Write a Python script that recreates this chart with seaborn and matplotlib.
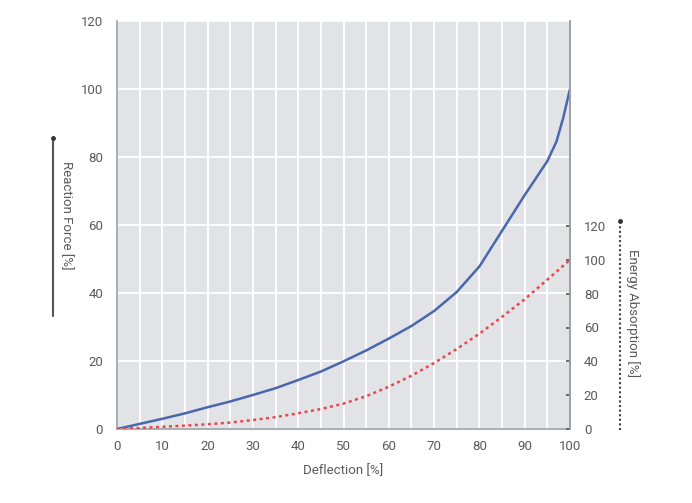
import numpy as np
import pandas as pd
import seaborn as sns
import matplotlib.pyplot as plt
from matplotlib.lines import Line2D

# values
deflection = [0, 5, 10, 15, 20, 25, 30, 35, 40, 45, 50, 55, 60, 65, 70, 75, 80, 85, 90, 95, 97, 98.5, 100]
reaction_force = [0, 1.5, 3.0, 4.6, 6.4, 8.1, 10, 12, 14.4, 16.9, 19.9, 23.1, 26.6, 30.3,
                  34.7, 40.3, 47.8, 58.3, 68.8, 78.8, 84.5, 91.5, 100]
deflection_e = [0, 5, 10, 15, 20, 25, 30, 35, 40, 45, 50, 55, 60, 65, 70, 75, 80, 85, 90, 95, 100]
energy_absorption = [0, 0.6, 1.3, 2.0, 2.8, 3.8, 5.3, 7.0, 9.3, 11.8, 15.0, 19.4, 25.0, 31.5,
                     39.0, 47.3, 56.3, 66.3, 76.7, 88.3, 100]

x_ticks = list(range(0, 101, 10))
left_ticks = list(range(0, 121, 20))
right_ticks = list(range(0, 121, 20))

sns.set_theme(style='white')
plt.rcParams['font.family'] = ['Roboto', 'DejaVu Sans']
text_col = '#5a5a5a'
grid_col = '#ffffff'
bg_col = '#e2e3e7'
spine_col = '#9aa0a6'

force_df = pd.DataFrame({'deflection': deflection, 'force': reaction_force})
energy_df = pd.DataFrame({'deflection': deflection_e, 'energy': energy_absorption})

fig = plt.figure(figsize=(6.92, 5.03), dpi=100)
ax = fig.add_axes([117 / 692, 1 - 429 / 503, (570 - 117) / 692, (429 - 21) / 503])
ax.set_facecolor(bg_col)

sns.lineplot(data=force_df, x='deflection', y='force', ax=ax, color='#4a67ad', linewidth=1.8)

ax.set_xlim(0, 100)
ax.set_ylim(0, 120)
ax.set_xticks(x_ticks)
ax.set_yticks(left_ticks)
ax.set_xticks(np.arange(0, 101, 5), minor=True)
ax.grid(True, which='both', axis='x', color=grid_col, linewidth=1.3)
ax.grid(True, which='major', axis='y', color=grid_col, linewidth=1.3)
ax.set_axisbelow(True)
ax.tick_params(axis='both', which='both', length=0, colors=text_col, labelsize=9.5)
ax.tick_params(axis='x', pad=8)
ax.tick_params(axis='y', pad=10)
ax.set_xlabel('Deflection [%]', color=text_col, fontsize=9.5, labelpad=8)
ax.set_ylabel('')
for s in ['left', 'bottom', 'right']:
    ax.spines[s].set_color(spine_col)
    ax.spines[s].set_linewidth(1.2)
ax.spines['top'].set_visible(False)

ax2 = ax.twinx()
sns.lineplot(data=energy_df, x='deflection', y='energy', ax=ax2, color='#e8474b',
             linewidth=1.8, linestyle=(0, (1.2, 1.4)))
ax2.set_ylim(0, 120 * 408 / 203)
ax2.set_yticks(right_ticks)
ax2.tick_params(axis='y', length=3, direction='in', colors=text_col, labelsize=9.5, pad=10)
ax2.set_ylabel('')
ax2.set_xlabel('')
for s in ['left', 'bottom', 'top']:
    ax2.spines[s].set_visible(False)
ax2.spines['right'].set_color(spine_col)
ax2.spines['right'].set_linewidth(1.2)

# axis-title arrows like the original
def fx(px):
    return px / 692

def fy(py):
    return 1 - py / 503

fig.add_artist(Line2D([fx(53), fx(53)], [fy(316), fy(140)], color='#555555', linewidth=1.5))
fig.add_artist(Line2D([fx(53)], [fy(138)], marker='o', markersize=2.5, color='#333333'))
fig.text(fx(66), fy(215), 'Reaction Force [%]', rotation=-90, color=text_col,
         fontsize=9.5, ha='center', va='center')

fig.add_artist(Line2D([fx(620), fx(620)], [fy(430), fy(224)], color='#444444',
                      linewidth=1.5, linestyle=(0, (1, 1.2))))
fig.add_artist(Line2D([fx(620)], [fy(221)], marker='o', markersize=2.5, color='#333333'))
fig.text(fx(633), fy(313), 'Energy Absorption [%]', rotation=-90, color=text_col,
         fontsize=9.5, ha='center', va='center')

fig.savefig('out.png', dpi=100)
